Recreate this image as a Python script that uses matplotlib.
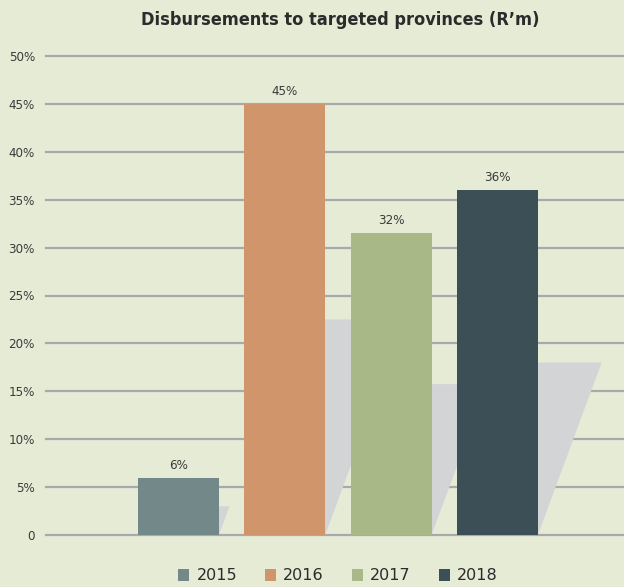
import matplotlib.pyplot as plt
from matplotlib.patches import Patch, Polygon

years = ['2015', '2016', '2017', '2018']
shares = [6, 45, 31.5, 36]
value_labels = ['6%', '45%', '32%', '36%']
colors = ['#728889', '#d0956b', '#a8b886', '#3c4f57']
yticks = [0, 5, 10, 15, 20, 25, 30, 35, 40, 45, 50]
ytick_labels = ['0'] + [f'{t}%' for t in yticks[1:]]
title = "Disbursements to targeted provinces (R\u2019m)"

plt.rcParams['font.family'] = ['DejaVu Sans']

bg = '#e6ebd6'
fig = plt.figure(figsize=(6.24, 5.87), dpi=100, facecolor=bg)
ax = fig.add_axes([46 / 624, 52 / 587, 578 / 624, 479 / 587])
ax.set_facecolor(bg)

x = list(range(len(years)))
width = 0.76
ax.set_xlim(-1.246, 4.19)
ax.set_ylim(0, 50)

# gridlines
for t in yticks:
    ax.axhline(t, color='#a7a9ab', lw=1.6, zorder=0, clip_on=False)

# slanted shadows behind bars (half height, skewed right)
fig_w, fig_h = fig.get_size_inches() * fig.dpi
px_x = ax.get_position().width * fig_w / (4.19 + 1.246)
px_y = ax.get_position().height * fig_h / 50
skew = 0.37
for xi, v in zip(x, shares):
    h = v / 2
    dx = skew * h * px_y / px_x
    xl, xr = xi - width / 2, xi + width / 2
    poly = Polygon([(xl, 0), (xr, 0), (xr + dx, h), (xl + dx, h)],
                   closed=True, facecolor='#d3d4d6', edgecolor='none', zorder=1)
    ax.add_patch(poly)

ax.bar(x, shares, width=width, color=colors, zorder=2)
for xi, v, lab in zip(x, shares, value_labels):
    ax.text(xi, v + 0.6, lab, ha='center', va='bottom', fontsize=9.5,
            fontstretch='condensed', color='#3a3a3a', zorder=3)

for s in ax.spines.values():
    s.set_visible(False)
ax.set_xticks([])
ax.set_yticks(yticks)
ax.set_yticklabels(ytick_labels, fontsize=9.5, fontstretch='condensed',
                   color='#3a3a3a')
ax.tick_params(axis='y', length=0, pad=8)

fig.text(340 / 624, 1 - 20 / 587, title, ha='center', va='center',
         fontsize=13, fontweight='bold', fontstretch='condensed',
         color='#2b2b2b')

handles = [Patch(facecolor=c, edgecolor='none') for c in colors]
fig.legend(handles, years, loc='center', bbox_to_anchor=(338 / 624, 11 / 587),
           ncol=4, frameon=False, handlelength=0.7, handleheight=0.7,
           handletextpad=0.45, columnspacing=1.75,
           prop={'size': 11.5}, labelcolor='#2b2b2b')

fig.savefig('out.png', dpi=100, facecolor=bg)
